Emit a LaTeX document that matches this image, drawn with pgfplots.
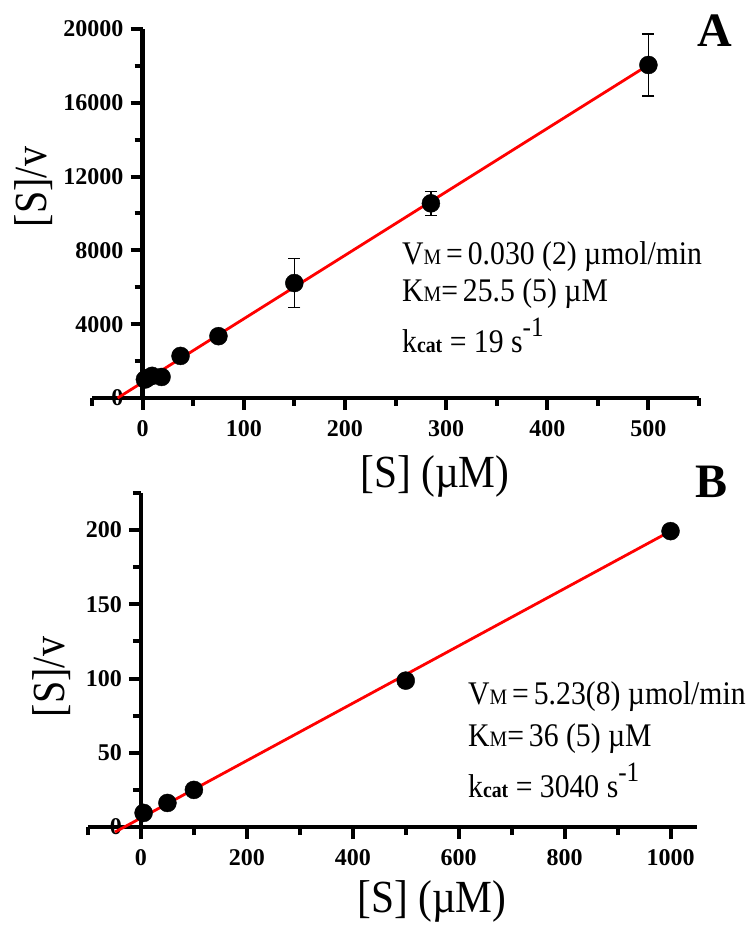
\documentclass[border=0pt]{standalone}
\usepackage{pgfplots}
\pgfplotsset{compat=1.18}
\usepackage{fontspec}
\setmainfont{Liberation Serif}
\newcommand\tfont{\fontsize{24}{24}\selectfont\bfseries}
\begin{document}
\begin{tikzpicture}
\useasboundingbox (0,0) rectangle (746pt,926pt);
\pgfplotsset{
  kin/.style={
    scale only axis, anchor=south west, clip=false,
    axis x line=bottom, axis y line=middle,
    axis line style={line width=4.5pt},
    every outer x axis line/.append style={-, line width=4.5pt, black},
    every inner y axis line/.append style={-, line width=4.5pt, black},
    tick align=outside,
    major tick length=12pt, minor tick length=8pt,
    tick style={black, line width=4pt},
    major tick style={black, line width=4pt},
    minor tick style={black, line width=4pt},
    xtick style={black, line width=4pt},
    ytick style={black, line width=4pt},
    hide obscured x ticks=false, hide obscured y ticks=false,
    /pgf/number format/assume math mode=true,
    /pgf/number format/1000 sep={},
    scaled ticks=false,
    xticklabel={\tfont\pgfmathprintnumber[assume math mode=true]{\tick}},
    yticklabel={\tfont\pgfmathprintnumber[assume math mode=true]{\tick}},
    x tick label style={inner sep=0pt, anchor=north, yshift=-10pt},
    y tick label style={inner sep=0pt, anchor=east, xshift=-7pt},
  }
}
% ---------- Panel A ----------
\begin{axis}[kin,
  at={(92pt,528pt)}, width=607pt, height=369pt,
  xmin=-50, xmax=550, ymin=0, ymax=20000,
  xtick={0,100,...,500}, minor xtick={-50,50,150,250,350,450,550},
  ytick={0,4000,...,20000}, minor ytick={2000,6000,10000,14000,18000},
]
\addplot[only marks, mark=*, mark size=9pt, black,
  error bars/.cd, y dir=both, y explicit, error mark=-,
  error bar style={line width=1.2pt, black},
  error mark options={rotate=90, line width=1.2pt, mark size=6pt, black}]
  table[x=x, y=y, y error=e] {
x y e
2.3 1000 200
4.7 1080 250
9.4 1200 300
18.75 1140 250
37.5 2280 150
75 3350 150
150 6230 1330
285 10550 650
500 18050 1680
};
\addplot[red, line width=2.8pt] coordinates {(-24.7,0) (500,18050)};
\end{axis}
% ---------- Panel B ----------
\begin{axis}[kin,
  at={(88pt,99pt)}, width=609pt, height=334pt,
  xmin=-100, xmax=1050, ymin=0, ymax=225,
  xtick={0,200,...,1000}, minor xtick={-100,100,300,500,700,900},
  ytick={0,50,...,200}, minor ytick={25,75,125,175,225},
]
\addplot[only marks, mark=*, mark size=9pt, black] table[x=x, y=y] {
x y
5 9.5
50 16.2
100 25
500 98.6
1000 199.3
};
\addplot[red, line width=2.8pt] coordinates {(-49,-3.4) (1000,199.3)};
\end{axis}
% ---------- Labels ----------
\newcommand\lfont{\fontsize{46}{46}\selectfont}
\node[rotate=90, font=\lfont] at (34pt,739pt) {\scalebox{0.87}[1]{[S]/v}};
\node[rotate=90, font=\lfont] at (52pt,249pt) {\scalebox{0.87}[1]{[S]/v}};
\node[anchor=base, font=\lfont] at (435pt,438pt) {\scalebox{0.9}[1]{[S] (µM)}};
\node[anchor=base, font=\lfont] at (432pt,13pt) {\scalebox{0.9}[1]{[S] (µM)}};
\node[anchor=base west, inner sep=0pt, font=\fontsize{48}{48}\selectfont\bfseries] at (697pt,879pt) {A};
\node[anchor=base west, inner sep=0pt, font=\fontsize{48}{48}\selectfont\bfseries] at (695pt,428pt) {B};
% annotations
\def\sm#1{{\fontsize{22}{22}\selectfont #1}}
\def\smb#1{{\fontsize{22}{22}\selectfont\bfseries #1}}
\def\sup#1{\raisebox{0.5em}{\fontsize{28}{28}\selectfont #1}}
\begin{scope}[every node/.style={anchor=base west, inner sep=0pt, font=\fontsize{33}{33}\selectfont}]
\node at (402pt,661pt) {\scalebox{0.9}[1]{V\sm{M}\,=\,0.030 (2) µmol/min}};
\node at (402pt,624pt) {\scalebox{0.9}[1]{K\sm{M}=\,25.5 (5) µM}};
\node at (402pt,573pt) {\scalebox{0.9}[1]{k\smb{cat} = 19 s\sup{-1}}};
\node at (468pt,221pt) {\scalebox{0.9}[1]{V\sm{M}\,=\,5.23(8) µmol/min}};
\node at (468pt,179pt) {\scalebox{0.9}[1]{K\sm{M}=\,36 (5) µM}};
\node at (468pt,128pt) {\scalebox{0.9}[1]{k\smb{cat} = 3040 s\sup{-1}}};
\end{scope}
\end{tikzpicture}
\end{document}
